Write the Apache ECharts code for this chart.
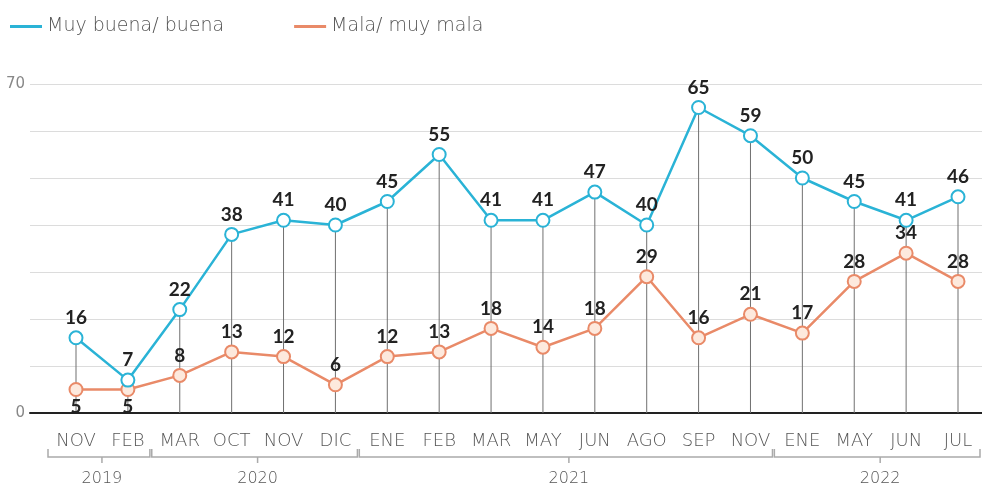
<!DOCTYPE html>
<html><head><meta charset="utf-8">
<script src="https://cdn.jsdelivr.net/npm/echarts@6/dist/echarts.min.js"></script>
<style>html,body{margin:0;padding:0;background:#fff}#c{width:982px;height:487px}</style>
</head><body><div id="c"></div>
<script>
const months = ['NOV','FEB','MAR','OCT','NOV','DIC','ENE','FEB','MAR','MAY','JUN','AGO','SEP','NOV','ENE','MAY','JUN','JUL'];
const buena = [16,7,22,38,41,40,45,55,41,41,47,40,65,59,50,45,41,46];
const mala = [5,5,8,13,12,6,12,13,18,14,18,29,16,21,17,28,34,28];
const years = [{name:'2019',from:0,to:1},{name:'2020',from:2,to:5},{name:'2021',from:6,to:13},{name:'2022',from:14,to:17}];
const yTicks = [0,70];

const FONT = '"DejaVu Sans", sans-serif';
const LFONT = 'Lato, "Noto Sans", sans-serif';
const CYAN = '#2ab3d6';
const ORANGE = '#e98a68';
const chart = echarts.init(document.getElementById('c'));

const labelStyle = {show:true, position:'top', distance:3, color:'#222', fontSize:19, fontWeight:'bold', fontFamily:LFONT};

chart.setOption({
  animation:false,
  legend:{
    left:5, top:12, itemWidth:32, itemHeight:3, itemGap:70,
    icon:'rect',
    textStyle:{color:'#555', fontSize:19, fontFamily:FONT, fontWeight:300},
    data:[
      {name:'Muy buena/ buena', itemStyle:{color:CYAN, borderWidth:0}},
      {name:'Mala/ muy mala', itemStyle:{color:ORANGE, borderWidth:0}}
    ]
  },
  grid:[
    {left:30, right:0, top:84, bottom:74},
    {left:76, right:24, top:84, bottom:74}
  ],
  xAxis:[
    {gridIndex:0, type:'category', data:months, axisLine:{lineStyle:{color:'#222', width:2}}, axisTick:{show:false}, axisLabel:{show:false}},
    {gridIndex:1, type:'category', data:months, boundaryGap:false, axisLine:{show:false}, axisTick:{show:false},
     axisLabel:{color:'#555', fontSize:18, fontFamily:FONT, fontWeight:300, margin:19, interval:0}}
  ],
  yAxis:[
    {gridIndex:0, type:'value', min:0, max:70, interval:10,
     splitLine:{lineStyle:{color:'#dcdcdc', width:1}},
     axisLine:{show:false}, axisTick:{show:false},
     axisLabel:{color:'#888', fontSize:15, fontFamily:FONT, margin:5,
       formatter:v => yTicks.includes(v) ? String(v) : ''}},
    {gridIndex:1, type:'value', min:0, max:70, interval:10, show:false}
  ],
  series:[
    {type:'bar', xAxisIndex:1, yAxisIndex:1, data:buena, barWidth:1, silent:true,
     itemStyle:{color:'#707070'}, z:1, legendHoverLink:false},
    {name:'Mala/ muy mala', type:'line', xAxisIndex:1, yAxisIndex:1, data:mala.map((v,i)=>({value:v, label: i<2 ? {position:'bottom', distance:0} : {}})),
     symbol:'circle', symbolSize:13, color:ORANGE,
     lineStyle:{color:ORANGE, width:2.5},
     itemStyle:{color:'#fde9dd', borderColor:ORANGE, borderWidth:2},
     label:labelStyle, z:3},
    {name:'Muy buena/ buena', type:'line', xAxisIndex:1, yAxisIndex:1, data:buena,
     symbol:'circle', symbolSize:13, color:CYAN,
     lineStyle:{color:CYAN, width:2.5},
     itemStyle:{color:'#ffffff', borderColor:CYAN, borderWidth:2},
     label:labelStyle, z:4}
  ]
});

// year brackets computed from the category scale
const graphics = [];
const baseY = chart.convertToPixel({yAxisIndex:1}, 0);
const by = baseY + 44;
years.forEach(g => {
  const xa = chart.convertToPixel({xAxisIndex:1}, g.from);
  const xb = chart.convertToPixel({xAxisIndex:1}, g.to);
  const x0 = xa - 28, x1 = xb + 22, xm = (xa + xb) / 2;
  graphics.push({type:'polyline', shape:{points:[[x0,by-8],[x0,by],[x1,by],[x1,by-8]]}, style:{stroke:'#aaa', lineWidth:1.5, fill:null}});
  graphics.push({type:'line', shape:{x1:xm, y1:by, x2:xm, y2:by+6}, style:{stroke:'#aaa', lineWidth:1.5}});
  graphics.push({type:'text', x:xm, y:by+22, style:{text:g.name, fill:'#555', fontSize:16, fontFamily:FONT, fontWeight:300, align:'center', verticalAlign:'middle'}});
});
chart.setOption({graphic:graphics});
</script></body></html>
